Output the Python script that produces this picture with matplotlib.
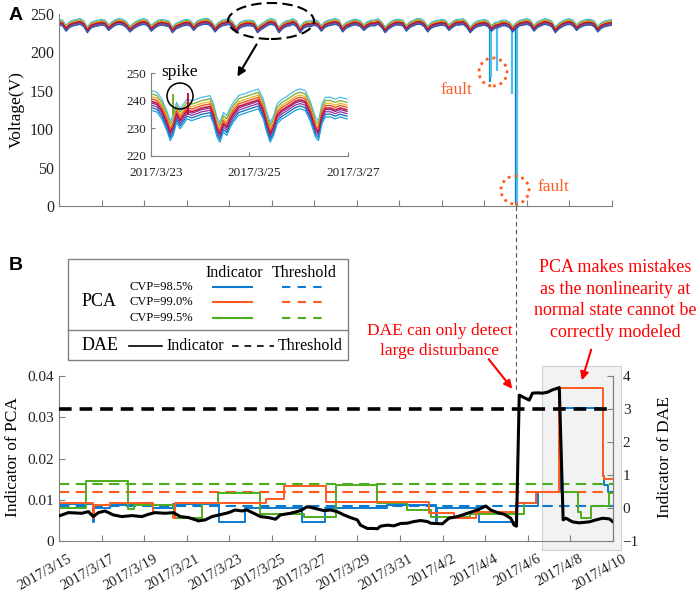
import numpy as np
import matplotlib.pyplot as plt
from matplotlib.patches import Ellipse, Rectangle, FancyArrowPatch
from matplotlib.lines import Line2D
import matplotlib.transforms as mtransforms

plt.rcParams['font.family'] = 'Liberation Serif'
plt.rcParams['xtick.direction'] = 'in'
plt.rcParams['ytick.direction'] = 'in'

# ---------------- data ----------------
# panel A: bus voltage, 6 samples per day (every 4 h) from 2017/3/15 to 2017/4/10
volt_main = [
    239, 238, 231, 236, 238, 239,
    240, 237, 229, 235, 237, 238,
    239, 238, 232, 236, 239, 240,
    239, 236, 230, 234, 237, 239,
    240, 238, 231, 235, 238, 239,
    238, 237, 229, 234, 236, 238,
    239, 238, 232, 237, 239, 240,
    240, 237, 230, 235, 238, 239,
    240, 236, 229, 235, 237, 238,
    238, 237, 229, 233, 236, 239,
    240, 238, 229, 234, 237, 238,
    240, 237, 229, 235, 237, 237,
    239, 237, 231, 236, 238, 239,
    240, 238, 230, 235, 237, 239,
    239, 237, 232, 236, 238, 238,
    240, 236, 229, 234, 237, 239,
    239, 238, 231, 236, 238, 240,
    240, 237, 230, 235, 237, 238,
    239, 238, 232, 236, 239, 239,
    240, 236, 229, 234, 237, 238,
    239, 237, 231, 235, 236, 238,
    238, 236, 230, 235, 238, 239,
    240, 238, 231, 236, 238, 240,
    239, 237, 229, 234, 237, 239,
    240, 238, 232, 236, 238, 239,
    239, 237, 230, 235, 237, 238,
    239,
]
band_offsets = [4.0, 2.5, 1.5, 0.5, -0.5, -1.5, -2.5, -3.5, 0.0]
band_colors = ['#4DBEEE', '#77AC30', '#EDB120', '#D95319', '#7E2F8E',
               '#0072BD', '#C2307F', '#1F5FB0', '#C8102E']

# fault dropouts (days since 3/15, lowest voltage)
fault_days = [20.28, 20.33, 20.59, 21.30, 21.47, 21.53]
fault_mins = [161, 168, 176, 146, 2, 0]
fault_colors = ['#1E8FD6', '#4DBEEE', '#4DBEEE', '#4DBEEE', '#0072BD', '#4DBEEE']
fault_day = 21.5

# inset: 2017/3/23 - 2017/3/27 (days since 3/23)
inset_days = [0.01, 0.12, 0.22, 0.32, 0.39, 0.45, 0.52, 0.59, 0.66, 0.73, 0.83,
              0.93, 1.03, 1.13, 1.20, 1.27, 1.34, 1.40, 1.47, 1.54, 1.61, 1.67,
              1.78, 1.88, 1.98, 2.08, 2.18, 2.28, 2.35, 2.42, 2.49, 2.56, 2.66,
              2.73, 2.83, 2.93, 3.03, 3.13, 3.23, 3.34, 3.40, 3.47, 3.54, 3.64,
              3.74, 3.84, 3.98]
inset_volts = [239.7, 239.1, 236.6, 232.4, 228.7, 230.6, 235.4, 233.0, 234.8, 236.6, 236.0,
               236.6, 237.3, 237.6, 237.9, 234.8, 230.0, 228.1, 231.8, 230.6, 233.6, 235.4,
               237.9, 238.5, 239.1, 239.7, 240.3, 236.6, 231.8, 228.1, 230.6, 234.8, 236.6,
               237.3, 238.5, 239.7, 240.3, 239.7, 236.0, 230.0, 228.7, 234.8, 237.3, 237.3,
               236.6, 237.3, 236.6]
inset_offsets = [4.0, 2.8, 1.8, 1.0, 0.3, -0.5, -1.3, -2.2, -3.2, 0.0]
inset_colors = ['#4DBEEE', '#77AC30', '#EDB120', '#D95319', '#FF6F9C', '#7E2F8E',
                '#9E2F9E', '#0072BD', '#1FA0E0', '#C8102E']
spike_days = [0.45, 0.76]
spike_tops = [242.5, 243.0]
spike_colors = ['#77AC30', '#C8102E']

# panel B: PCA indicators (step values, days since 3/15)
blue_days = [0, 1.58, 1.65, 2.4, 4.43, 5.37, 7.49, 8.71, 11.4, 12.5, 15.4, 17.68,
             17.75, 19.72, 21.44, 22.46, 23.5, 25.51, 25.6, 25.75]
blue_vals = [0.0089, 0.0047, 0.0079, 0.0087, 0.0079, 0.0089, 0.0047, 0.0079, 0.0047,
             0.0079, 0.0088, 0.0047, 0.0079, 0.0047, 0.0084, 0.0119, 0.0322, 0.0158,
             0.0136, 0.0118]
orange_days = [0, 1.58, 1.65, 2.4, 4.43, 5.37, 5.45, 9.7, 10.55, 12.55, 17.37, 18.54,
               19.56, 21.44, 22.4, 23.48, 25.51, 25.6]
orange_vals = [0.0093, 0.0056, 0.0087, 0.0093, 0.0069, 0.0056, 0.0093, 0.0101, 0.0133,
               0.0094, 0.0069, 0.0056, 0.0070, 0.0093, 0.0120, 0.0370, 0.0158, 0.0150]
green_days = [0, 1.27, 3.25, 3.5, 5.41, 6.71, 7.44, 9.45, 11.49, 12.98, 14.94, 16.35,
              17.44, 19.3, 21.83, 22.4, 24.34, 24.5, 24.95, 25.8]
green_vals = [0.0080, 0.0146, 0.0077, 0.0088, 0.0055, 0.0091, 0.0117, 0.0065, 0.0057,
              0.0136, 0.0091, 0.0076, 0.0059, 0.0066, 0.0092, 0.0119, 0.0070, 0.0056,
              0.0085, 0.0117]
pca_thresholds = [0.0086, 0.0120, 0.0137]
pca_colors = ['#0B7AD1', '#FF5B1F', '#4CAE1C']
pca_labels = ['CVP=98.5%', 'CVP=99.0%', 'CVP=99.5%']

# panel B: DAE indicator
dae_days = [0, 0.44, 1.07, 1.38, 1.61, 1.85, 2.16, 2.55, 2.95, 3.42, 3.89, 4.2, 4.51,
            4.98, 5.37, 5.69, 6.08, 6.55, 6.86, 7.18, 7.65, 7.96, 8.27, 8.59, 8.82,
            9.14, 9.45, 9.84, 10.16, 10.39, 10.86, 11.33, 11.65, 11.88, 12.19, 12.43,
            12.74, 13.06, 13.37, 13.68, 14.0, 14.15, 14.47, 14.78, 14.94, 15.09, 15.41,
            15.72, 16.03, 16.35, 16.66, 16.97, 17.29, 17.44, 17.99, 18.3, 18.7, 19.17,
            19.64, 20.03, 20.26, 20.58, 20.89, 21.2, 21.36, 21.47, 21.6, 21.91, 22.07,
            22.22, 22.46, 22.69, 22.93, 23.16, 23.4, 23.48, 23.66, 23.79, 24.1, 24.41,
            24.89, 25.2, 25.51, 25.83, 26.0]
dae_vals = [-0.24, -0.14, -0.16, -0.11, -0.26, -0.14, -0.09, -0.21, -0.26, -0.23, -0.26,
            -0.19, -0.14, -0.16, -0.14, -0.26, -0.29, -0.39, -0.36, -0.26, -0.19, -0.14,
            -0.06, -0.09, -0.06, -0.16, -0.26, -0.29, -0.34, -0.21, -0.16, -0.08, 0.04,
            0.01, -0.04, -0.08, -0.06, -0.11, -0.21, -0.29, -0.36, -0.52, -0.62, -0.62,
            -0.63, -0.55, -0.52, -0.54, -0.47, -0.46, -0.41, -0.38, -0.41, -0.46, -0.48,
            -0.31, -0.26, -0.16, -0.06, 0.06, -0.06, -0.14, -0.19, -0.31, -0.52, -0.55,
            3.42, 3.32, 3.27, 3.48, 3.49, 3.48, 3.51, 3.58, 3.63, 3.65, -0.36, -0.31,
            -0.42, -0.45, -0.42, -0.36, -0.31, -0.33, -0.42]
dae_threshold = 3.0

date_labels = ['2017/3/15', '2017/3/17', '2017/3/19', '2017/3/21', '2017/3/23',
               '2017/3/25', '2017/3/27', '2017/3/29', '2017/3/31', '2017/4/2',
               '2017/4/4', '2017/4/6', '2017/4/8', '2017/4/10']
inset_labels = ['2017/3/23', '2017/3/25', '2017/3/27']

# ---------------- figure ----------------
W, H = 699, 595
fig = plt.figure(figsize=(W / 100, H / 100), dpi=100)


def fp(x, y):
    return (x / W, 1 - y / H)


def style(ax, spines):
    for s in ['top', 'right', 'left', 'bottom']:
        ax.spines[s].set_visible(s in spines)
        ax.spines[s].set_color('#808080')
    ax.tick_params(colors='#808080', labelcolor='#222222')


# panel A
ax_a = fig.add_axes([59 / W, 1 - 206 / H, 553 / W, 192 / H])
t_main = np.arange(len(volt_main)) / 6
vm = np.array(volt_main, dtype=float)
ax_a.vlines(fault_days, fault_mins, 234, colors=fault_colors, lw=1.6, zorder=1)
for off, c in zip(band_offsets, band_colors):
    ax_a.plot(t_main, vm + off, color=c, lw=0.9, zorder=2)
ax_a.set_xlim(0, 26)
ax_a.set_ylim(0, 250)
ax_a.set_xticks(np.arange(0, 27, 2))
ax_a.set_xticklabels([])
ax_a.set_yticks([0, 50, 100, 150, 200, 250])
ax_a.tick_params(axis='y', labelsize=11.5, length=0)
ax_a.tick_params(axis='x', length=4)
style(ax_a, ['left', 'bottom'])

# inset
ax_i = fig.add_axes([151 / W, 1 - 155.7 / H, 197 / W, 82.4 / H])
iv = np.array(inset_volts)
for off, c in zip(inset_offsets, inset_colors):
    ax_i.plot(inset_days, iv + off, color=c, lw=0.9)
ax_i.vlines(spike_days, 235, spike_tops, colors=spike_colors, lw=1.4)
ax_i.set_xlim(0, 4)
ax_i.set_ylim(220, 250)
ax_i.set_xticks([0, 2, 4])
ax_i.set_xticklabels(inset_labels)
ax_i.set_yticks([220, 230, 240, 250])
ax_i.tick_params(labelsize=9.5, length=3)
ax_i.tick_params(axis='x', pad=8)
ax_i.patch.set_visible(False)
style(ax_i, ['left', 'bottom'])
shift_i = mtransforms.ScaledTranslation(5 / 100, 0, fig.dpi_scale_trans)
for lab in ax_i.get_xticklabels():
    lab.set_transform(lab.get_transform() + shift_i)

# panel B
ax_b = fig.add_axes([59 / W, 1 - 541 / H, 554 / W, 165 / H])
ax_b.patch.set_visible(False)
for thr, c in zip(pca_thresholds, pca_colors):
    ax_b.axhline(thr, color=c, lw=1.5, dashes=(5, 3))
for d, v, c in [(blue_days, blue_vals, pca_colors[0]),
                (green_days, green_vals, pca_colors[2]),
                (orange_days, orange_vals, pca_colors[1])]:
    ax_b.step(d + [26], v + [v[-1]], where='post', color=c, lw=1.4)
ax_b.set_xlim(0, 26)
ax_b.set_ylim(0, 0.04)
ax_b.set_yticks([0, 0.01, 0.02, 0.03, 0.04])
ax_b.set_yticklabels(['0', '0.01', '0.02', '0.03', '0.04'])
ax_b.set_xticks(np.arange(0, 27, 2))
ax_b.set_xticklabels(date_labels, rotation=29, ha='right', va='top', rotation_mode='anchor')
ax_b.tick_params(axis='y', labelsize=11, length=4)
ax_b.tick_params(axis='x', labelsize=10.5, length=4, pad=8)
style(ax_b, ['left', 'bottom', 'right'])
shift_b = mtransforms.ScaledTranslation(9 / 100, 0, fig.dpi_scale_trans)
for lab in ax_b.get_xticklabels():
    lab.set_transform(lab.get_transform() + shift_b)

ax_r = ax_b.twinx()
ax_r.patch.set_visible(False)
ax_r.axhline(dae_threshold, color='black', lw=2.6, dashes=(3.5, 2.2))
ax_r.plot(dae_days, dae_vals, color='black', lw=2.2)
ax_r.set_ylim(-1, 4)
ax_r.set_yticks([-1, 0, 1, 2, 3, 4])
ax_r.tick_params(labelsize=11, length=4, pad=7)
style(ax_r, ['right'])

# shaded region
fig.patches.append(Rectangle(fp(542, 550), 79 / W, 184 / H, transform=fig.transFigure,
                             facecolor='#f2f2f2', edgecolor='#cfcfcf', lw=0.8, zorder=-1))

# axis labels
fig.text(*fp(17, 110), 'Voltage(V)', rotation=90, ha='center', va='center', fontsize=12.5)
fig.text(*fp(13, 457), 'Indicator of PCA', rotation=90, ha='center', va='center', fontsize=12.5)
fig.text(*fp(665, 457), 'Indicator of DAE', rotation=90, ha='center', va='center', fontsize=12.5)
fig.text(*fp(16, 16), 'A', fontsize=14, fontweight='bold', family='Liberation Sans',
         ha='center', va='center')
fig.text(*fp(16, 266), 'B', fontsize=14, fontweight='bold', family='Liberation Sans',
         ha='center', va='center')

# panel A annotations
fig.patches.append(Ellipse(fp(271, 21), 86 / W, 36 / H, transform=fig.transFigure,
                           fill=False, edgecolor='black', lw=1.5, ls=(0, (5, 2.5))))
fig.patches.append(FancyArrowPatch(fp(258, 42), fp(236, 79), transform=fig.transFigure,
                                   arrowstyle='-|>', mutation_scale=12, color='black', lw=1.5))
fig.patches.append(Ellipse(fp(180, 96), 26 / W, 26 / H, transform=fig.transFigure,
                           fill=False, edgecolor='black', lw=1.1))
fig.text(*fp(180, 72), 'spike', ha='center', va='center', fontsize=12.5)
orange = '#FF5A1F'
for cx, cy in [(493, 72), (515, 190)]:
    fig.patches.append(Ellipse(fp(cx, cy), 28 / W, 28 / H, transform=fig.transFigure,
                               fill=False, edgecolor=orange, lw=2, ls=(0, (1, 1.5))))
fig.text(*fp(456, 90), 'fault', ha='center', va='center', fontsize=12.5, color=orange)
fig.text(*fp(553, 187), 'fault', ha='center', va='center', fontsize=12.5, color=orange)

# connector line at the fault
blend = mtransforms.blended_transform_factory(ax_a.transData, fig.transFigure)
fig.lines.append(Line2D([fault_day, fault_day], [1 - 206 / H, 1 - 392 / H], transform=blend,
                        color='#555555', lw=0.8, dashes=(4, 3)))

# legend box
fig.patches.append(Rectangle(fp(68, 360), 280 / W, 101 / H, transform=fig.transFigure,
                             facecolor='white', edgecolor='#808080', lw=1))
fig.lines.append(Line2D([68 / W, 348 / W], [1 - 330 / H] * 2, transform=fig.transFigure,
                        color='#808080', lw=1))
fig.text(*fp(234, 273), 'Indicator', ha='center', va='center', fontsize=11.5)
fig.text(*fp(304, 273), 'Threshold', ha='center', va='center', fontsize=11.5)
fig.text(*fp(99, 302), 'PCA', ha='center', va='center', fontsize=13)
for i, (lab, c) in enumerate(zip(pca_labels, pca_colors)):
    y = [287, 302, 318][i]
    fig.text(*fp(161, y), lab, ha='center', va='center', fontsize=9)
    fig.lines.append(Line2D([213 / W, 252 / W], [1 - y / H] * 2, transform=fig.transFigure,
                            color=c, lw=1.5))
    fig.lines.append(Line2D([282 / W, 322 / W], [1 - y / H] * 2, transform=fig.transFigure,
                            color=c, lw=1.5, dashes=(4, 3.5)))
fig.text(*fp(100, 346), 'DAE', ha='center', va='center', fontsize=13)
fig.lines.append(Line2D([129 / W, 162 / W], [1 - 346 / H] * 2, transform=fig.transFigure,
                        color='black', lw=1.2))
fig.text(*fp(166, 346), 'Indicator', ha='left', va='center', fontsize=11.5)
fig.lines.append(Line2D([232 / W, 274 / W], [1 - 346 / H] * 2, transform=fig.transFigure,
                        color='black', lw=1.2, dashes=(4, 3.5)))
fig.text(*fp(278, 346), 'Threshold', ha='left', va='center', fontsize=11.5)

# red annotations
fig.text(*fp(440, 341), 'DAE can only detect\nlarge disturbance', ha='center', va='center',
         fontsize=12.5, color='red', linespacing=1.35)
fig.patches.append(FancyArrowPatch(fp(487, 357), fp(514, 391), transform=fig.transFigure,
                                   arrowstyle='-|>', mutation_scale=12, color='red', lw=1.5))
fig.text(*fp(615, 300), 'PCA makes mistakes\nas the nonlinearity at\nnormal state cannot be\ncorrectly modeled',
         ha='center', va='center', fontsize=13, color='red', linespacing=1.35)
fig.patches.append(FancyArrowPatch(fp(592, 347), fp(581, 383), transform=fig.transFigure,
                                   arrowstyle='-|>', mutation_scale=12, color='red', lw=1.5))

fig.savefig('out.png', dpi=100)
